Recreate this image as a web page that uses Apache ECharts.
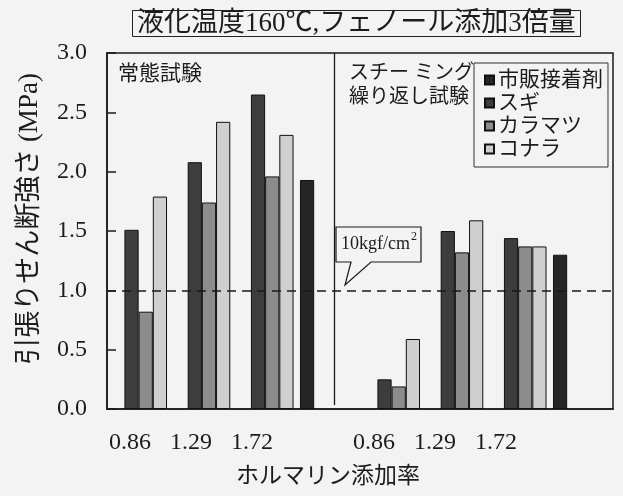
<!DOCTYPE html>
<html>
<head>
<meta charset="utf-8">
<script src="https://cdn.jsdelivr.net/npm/echarts@6/dist/echarts.min.js"></script>
<style>
  html, body { margin: 0; padding: 0; background: #f3f3f3; }
  #chart { width: 623px; height: 496px; }
</style>
</head>
<body>
<div id="chart"></div>
<script>
// Formalin ratio per cluster; the blank slots hold the commercial-adhesive bars
const categories = ['0.86', '1.29', '1.72', '', '0.86', '1.29', '1.72', ''];
const tickLabels = ['0.86', '1.29', '1.72', '', '0.86', '1.29', '1.72', ''];
const yTicks = [0, 0.5, 1.0, 1.5, 2.0, 2.5, 3.0];

// Tensile shear strength (MPa): normal test (left four slots), steaming cycle test (right four)
const commercial = ['-', '-', '-', 1.93, '-', '-', '-', 1.30];
const sugi       = [1.51, 2.08, 2.65, '-', 0.25, 1.50, 1.44, '-'];
const karamatsu  = [0.82, 1.74, 1.96, '-', 0.19, 1.32, 1.37, '-'];
const konara     = [1.79, 2.42, 2.31, '-', 0.59, 1.59, 1.37, '-'];

const seriesNames = ['市販接着剤', 'スギ', 'カラマツ', 'コナラ'];
const threshold = 1.0; // 10 kgf/cm2

const FONT = "'Liberation Serif', 'Noto Sans CJK JP', serif";
const INK = '#1c1c1c';
const BG = '#f3f3f3';

const chart = echarts.init(document.getElementById('chart'));

function barSeries(name, data, color, extra) {
  return Object.assign({
    name: name,
    type: 'bar',
    xAxisIndex: 0,
    yAxisIndex: 0,
    data: data,
    barWidth: 14.2,
    barGap: '0%',
    itemStyle: { color: color, borderColor: '#111', borderWidth: 1 },
    emphasis: { disabled: true },
    animation: false
  }, extra || {});
}

chart.setOption({
  backgroundColor: BG,
  animation: false,
  textStyle: { fontFamily: FONT, color: INK },
  title: {
    text: '液化温度160℃,フェノール添加3倍量',
    left: 132,
    top: 10,
    padding: [0, 5],
    borderColor: '#222',
    borderWidth: 1,
    textStyle: { fontFamily: FONT, fontSize: 27, fontWeight: 'normal', color: INK, lineHeight: 27 }
  },
  legend: {
    data: seriesNames,
    orient: 'vertical',
    left: 474,
    top: 63,
    padding: [6, 5, 7, 10],
    itemGap: 1,
    itemWidth: 9,
    itemHeight: 9,
    icon: 'rect',
    borderColor: '#333',
    borderWidth: 1,
    backgroundColor: BG,
    selectedMode: false,
    textStyle: { fontFamily: FONT, fontSize: 21, color: INK, lineHeight: 22, padding: [0, 0, 0, -1] }
  },
  grid: [
    { left: 107, top: 53, width: 506, height: 356, show: true, borderColor: '#1a1a1a', borderWidth: 1.5, backgroundColor: 'transparent' },
    { left: 99.5, top: 53, width: 488, height: 356, show: false }
  ],
  xAxis: [
    {
      type: 'category',
      gridIndex: 0,
      data: categories,
      axisLine: { lineStyle: { color: '#1a1a1a', width: 1.5 } },
      axisTick: { show: false },
      axisLabel: { show: false }
    },
    {
      type: 'category',
      gridIndex: 1,
      data: tickLabels,
      axisLine: { show: false },
      axisTick: { show: false },
      axisLabel: { interval: 0, margin: 22, fontSize: 24, fontFamily: FONT, color: INK }
    }
  ],
  yAxis: [
    {
      type: 'value',
      gridIndex: 0,
      min: yTicks[0],
      max: yTicks[yTicks.length - 1],
      interval: yTicks[1] - yTicks[0],
      axisLine: { show: true, lineStyle: { color: '#1a1a1a', width: 1.5 } },
      axisTick: { show: true, inside: true, length: 9, lineStyle: { color: '#1a1a1a', width: 1.5 } },
      splitLine: { show: false },
      axisLabel: { margin: 20, fontSize: 24, fontFamily: FONT, color: INK, formatter: v => v.toFixed(1) },
      name: '引張りせん断強さ (MPa)',
      nameLocation: 'middle',
      nameRotate: 90,
      nameGap: 64,
      nameTextStyle: { fontSize: 27, fontFamily: FONT, color: INK, padding: [0, 0, 0, 24] }
    },
    { type: 'value', gridIndex: 1, show: false, min: 0, max: 3 }
  ],
  graphic: [
    // axis title under the tick labels
    { type: 'text', x: 328, y: 465, style: { text: 'ホルマリン添加率', font: "23px " + FONT, fill: INK, textAlign: 'center', textVerticalAlign: 'top' } },
    // panel captions
    { type: 'text', left: 118, top: 64, style: { text: '常態試験', font: "21px " + FONT, fill: INK } },
    { type: 'text', left: 349, top: 62, style: { text: 'スチー ミング\n繰り返し試験', font: "20px " + FONT, fill: INK, lineHeight: 24 } },
    // divider between the two test conditions
    { type: 'line', shape: { x1: 334.5, y1: 53, x2: 334.5, y2: 405 }, style: { stroke: '#1a1a1a', lineWidth: 1.3 }, z: 10 },
    // callout for the 10 kgf/cm2 reference level
    {
      type: 'polygon',
      shape: { points: [[336, 227], [421, 227], [421, 262], [371, 262], [345, 285], [351, 262], [336, 262]] },
      style: { fill: BG, stroke: '#1a1a1a', lineWidth: 1.2 },
      z: 10
    },
    { type: 'text', x: 341, y: 235, z: 11, style: { text: '10kgf/cm', font: "18px " + FONT, fill: INK, textVerticalAlign: 'top' } },
    { type: 'text', x: 411, y: 231, z: 11, style: { text: '2', font: "12px " + FONT, fill: INK, textVerticalAlign: 'top' } }
  ],
  series: [
    barSeries(seriesNames[0], commercial, '#262626', {
      markLine: {
        silent: true,
        symbol: ['none', 'none'],
        label: { show: false },
        lineStyle: { color: '#1a1a1a', type: [9, 6], width: 1.7 },
        data: [{ yAxis: threshold }]
      }
    }),
    barSeries(seriesNames[1], sugi, '#3d3d3d'),
    barSeries(seriesNames[2], karamatsu, '#8c8c8c'),
    barSeries(seriesNames[3], konara, '#cfcfcf')
  ]
});
</script>
</body>
</html>
